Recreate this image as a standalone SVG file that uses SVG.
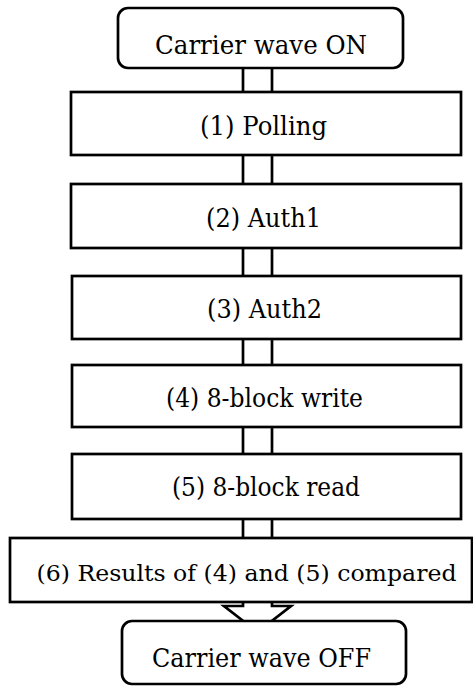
<svg xmlns="http://www.w3.org/2000/svg" width="473" height="687" viewBox="0 0 473 687">
<style>
.box{fill:#fff;stroke:#000;stroke-width:2.7}
.con{fill:#fff;stroke:#000;stroke-width:2.7}
.t{font-family:'DejaVu Serif','Liberation Serif',serif;font-size:26px;fill:#000;text-anchor:middle}
</style>
<rect width="473" height="687" fill="#fff"/>
<g id="connectors">
<rect class="con" x="243" y="66" width="29" height="28"/>
<rect class="con" x="243" y="153" width="29" height="33"/>
<rect class="con" x="243" y="246" width="29" height="32"/>
<rect class="con" x="243" y="337" width="29" height="30"/>
<rect class="con" x="243" y="425" width="29" height="31"/>
<rect class="con" x="243" y="517" width="29" height="23"/>
<polygon class="con" points="243,600 243,606 224,606 257.5,632 291,606 272,606 272,600"/>
</g>
<g id="start"><rect class="box" x="118" y="8" width="285" height="60" rx="10"/><text class="t" x="261" y="54" textLength="212" lengthAdjust="spacingAndGlyphs">Carrier wave ON</text></g>
<g id="step1"><rect class="box" x="71" y="92" width="390" height="63"/><text class="t" x="263.5" y="135" textLength="127" lengthAdjust="spacingAndGlyphs">(1) Polling</text></g>
<g id="step2"><rect class="box" x="71" y="184" width="390" height="64"/><text class="t" x="263.5" y="227" textLength="115" lengthAdjust="spacingAndGlyphs">(2) Auth1</text></g>
<g id="step3"><rect class="box" x="72" y="276" width="389" height="63"/><text class="t" x="264.5" y="318" textLength="115" lengthAdjust="spacingAndGlyphs">(3) Auth2</text></g>
<g id="step4"><rect class="box" x="72" y="365" width="389" height="62"/><text class="t" x="264.5" y="407" textLength="197" lengthAdjust="spacingAndGlyphs">(4) 8-block write</text></g>
<g id="step5"><rect class="box" x="72" y="454" width="389" height="65"/><text class="t" x="266" y="496" textLength="188" lengthAdjust="spacingAndGlyphs">(5) 8-block read</text></g>
<g id="step6"><rect class="box" x="10" y="538" width="462" height="64"/><text class="t" style="font-size:23px" x="246.5" y="581" textLength="420" lengthAdjust="spacingAndGlyphs">(6) Results of (4) and (5) compared</text></g>
<g id="end"><rect class="box" x="122" y="621" width="284" height="63" rx="10"/><text class="t" x="261.5" y="667" textLength="219" lengthAdjust="spacingAndGlyphs">Carrier wave OFF</text></g>
</svg>
